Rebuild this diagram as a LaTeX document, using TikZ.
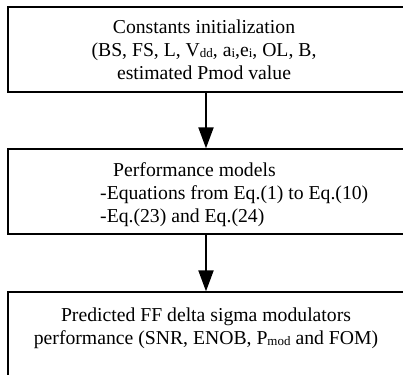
\documentclass[tikz,border=0pt]{standalone}
\usepackage{fontspec}
\setmainfont{Liberation Serif}
\usetikzlibrary{positioning, arrows.meta}

% small lowered letters (Vdd, ai, Pmod)
\newcommand{\lowtxt}[1]{\raisebox{-0.5pt}{\fontsize{13}{13}\selectfont #1}}

\begin{document}
\begin{tikzpicture}[
    x=1pt, y=-1pt,
    >={Triangle[length=21pt, width=15pt]},
    stepbox/.style={rectangle, draw, line width=1.3pt, minimum width=396pt, minimum height=85pt, inner sep=0pt},
    txt/.style={inner sep=0pt, font=\fontsize{19.7}{23}\selectfont},
    flow/.style={->, line width=2pt},
  ]
  \useasboundingbox (0,0) rectangle (403,374);
  \clip (0,0) rectangle (403,374);

  %% --- Boxes ---
  \node[stepbox] (init) at (206, 49.5) {};
  \node[stepbox] (perf) at (206, 191.5) {};
  \node[stepbox] (pred) at (206, 334.5) {};

  %% --- Texts ---
  % Constants
  \node[txt, align=center, anchor=north] (initTxt) at (204, 20)
    {Constants initialization\\
     (BS, FS, L, V\lowtxt{dd}, a\lowtxt{i},e\lowtxt{i}, OL, B,\\
     estimated Pmod value};
  % Models
  \node[txt, align=left, anchor=north west] (perfTxt) at (100, 162)
    {\hspace*{13pt}Performance models\\
     -Equations from Eq.(1) to Eq.(10)\\
     -Eq.(23) and Eq.(24)};
  % Results
  \node[txt, align=center, anchor=north] (predTxt) at (206, 308)
    {Predicted FF delta sigma modulators\\
     performance (SNR, ENOB, P\lowtxt{mod} and FOM)};

  %% --- Arrows ---
  \draw[flow] (init) -- (perf);
  \draw[flow] (perf) -- (pred);
\end{tikzpicture}
\end{document}
